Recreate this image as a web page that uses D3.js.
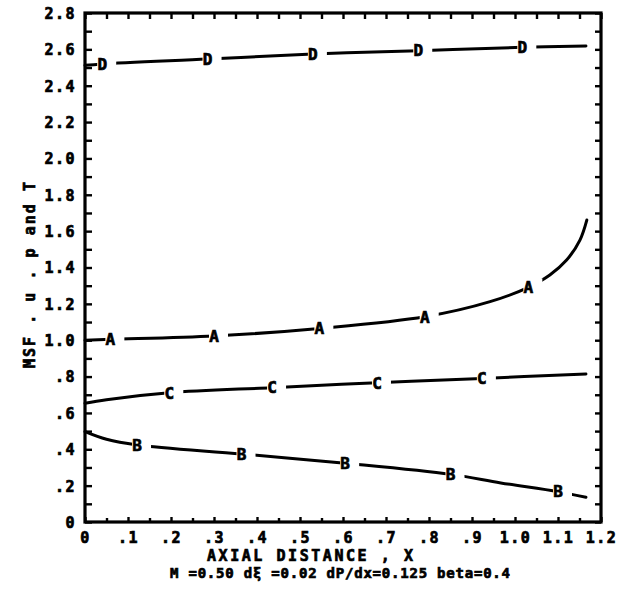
<!DOCTYPE html>
<html>
<head>
<meta charset="utf-8">
<script src="https://cdn.jsdelivr.net/npm/d3@7"></script>
<style>
  body { margin: 0; background: #fff; }
  svg { display: block; }
  text { font-family: "DejaVu Sans Mono", monospace; font-weight: bold; fill: #000; stroke: #000; stroke-width: 0.7px; }
</style>
</head>
<body>
<svg id="ch" width="617" height="597"></svg>
<script>
// curves, marker positions listed separately

const dX = [0, 0.04, 0.285, 0.53, 0.775, 1.017, 1.165];
const dY = [2.512, 2.52, 2.547, 2.574, 2.593, 2.611, 2.618];
const dMarkX = [0.04, 0.285, 0.53, 0.775, 1.017];

const aX = [0, 0.059, 0.30, 0.545, 0.79, 0.942, 1.031, 1.081, 1.12, 1.151, 1.167];
const aY = [1.0, 1.005, 1.023, 1.065, 1.129, 1.212, 1.291, 1.359, 1.441, 1.551, 1.661];
const aMarkX = [0.059, 0.30, 0.545, 0.79, 1.031];

const cX = [0, 0.05, 0.196, 0.435, 0.679, 0.923, 1.165];
const cY = [0.653, 0.673, 0.711, 0.739, 0.766, 0.79, 0.814];
const cMarkX = [0.196, 0.435, 0.679, 0.923];

const bX = [0, 0.05, 0.121, 0.364, 0.605, 0.85, 0.967, 1.10, 1.165];
const bY = [0.497, 0.455, 0.424, 0.374, 0.323, 0.262, 0.215, 0.167, 0.136];
const bMarkX = [0.121, 0.364, 0.605, 0.85, 1.10];

const curveNames = ["D", "A", "C", "B"];

const xTickLabels = ["0", ".1", ".2", ".3", ".4", ".5", ".6", ".7", ".8", ".9", "1.0", "1.1", "1.2"];
const yTickLabels = ["0", ".2", ".4", ".6", ".8", "1.0", "1.2", "1.4", "1.6", "1.8", "2.0", "2.2", "2.4", "2.6", "2.8"];

const xTitle = "AXIAL DISTANCE , X";
const yTitle = "MSF . u . p and T";
const caption = "M =0.50 d\u03BE =0.02 dP/dx=0.125  beta=0.4";

/* Dimensions */
const mLeft = 85, mRight = 601, mTop = 13, mBottom = 522;

const svg = d3.select("#ch");

const x = d3.scaleLinear().domain([0, 1.2]).range([mLeft, mRight]);
const y = d3.scaleLinear().domain([0, 2.8]).range([mBottom, mTop]);

const ticks05 = d3.range(0, 1.2001, 0.05);
const ticks1 = d3.range(0, 2.8001, 0.1);

/* Axes */
const yAxis = d3.axisLeft(y)
  .tickValues(ticks1)
  .tickSizeInner(-7).tickSizeOuter(0).tickPadding(9)
  .tickFormat((d, i) => (i % 2 == 0 ? yTickLabels[i / 2] : ""));
const xAxis = d3.axisBottom(x)
  .tickValues(ticks05)
  .tickSizeInner(-5).tickSizeOuter(0).tickPadding(10)
  .tickFormat((d, i) => (i % 2 == 0 ? xTickLabels[i / 2] : ""));
const topAxis = d3.axisTop(x).tickValues(ticks05).tickSizeInner(-6).tickSizeOuter(0).tickFormat("");
const rightAxis = d3.axisRight(y).tickValues(ticks1).tickSizeInner(-6).tickSizeOuter(0).tickFormat("");

const gy = svg.append("g").attr("transform", `translate(${mLeft},0)`).call(yAxis);
const gx = svg.append("g").attr("transform", `translate(0,${mBottom})`).call(xAxis);
const gt = svg.append("g").attr("transform", `translate(0,${mTop})`).call(topAxis);
const gr = svg.append("g").attr("transform", `translate(${mRight},0)`).call(rightAxis);

[gy, gx, gt, gr].forEach((g) => {
  g.select(".domain").remove();
  g.selectAll("line").attr("stroke", "#000").attr("stroke-width", 2.4);
  g.selectAll("text")
    .style("font-size", "15px")
    .style("letter-spacing", "1.5px")
    .attr("fill", "#000");
});
gx.selectAll("line").attr("y2", (d, i) => (i % 2 == 0 ? -5 : -4));
gy.selectAll("text").attr("dy", "0.36em");
gx.selectAll("text").attr("dy", "0.7em");

/* Frame */
svg.append("rect")
  .attr("x", mLeft).attr("y", mTop)
  .attr("width", mRight - mLeft).attr("height", mBottom - mTop)
  .attr("fill", "none").attr("stroke", "#000").attr("stroke-width", 3.2);

/* Curves */
const series = [
  { xs: dX, ys: dY, marks: dMarkX },
  { xs: aX, ys: aY, marks: aMarkX },
  { xs: cX, ys: cY, marks: cMarkX },
  { xs: bX, ys: bY, marks: bMarkX },
];

const line = d3.line()
  .x((d) => x(d[0]))
  .y((d) => y(d[1]))
  .curve(d3.curveCatmullRom.alpha(0.5));

series.forEach((s, k) => {
  const pts = s.xs.map((v, i) => [v, s.ys[i]]);
  svg.append("path")
    .attr("d", line(pts))
    .attr("fill", "none")
    .attr("stroke", "#000")
    .attr("stroke-width", 3)
    .attr("stroke-linecap", "round");

  const at = d3.scaleLinear().domain(s.xs).range(s.ys);
  const m = svg.append("g").selectAll("g").data(s.marks).enter().append("g")
    .attr("transform", (d) => `translate(${x(d)},${y(at(d))})`);
  m.append("rect")
    .attr("x", -5).attr("y", -9).attr("width", 19).attr("height", 18)
    .attr("fill", "#fff").attr("stroke", "none");
  m.append("text")
    .attr("text-anchor", "middle")
    .attr("dy", "0.36em")
    .style("font-size", "16px")
    .text(curveNames[k]);
});

/* Titles */
svg.append("text")
  .attr("x", 310).attr("y", 556)
  .attr("text-anchor", "middle").attr("dy", "0.36em")
  .attr("textLength", 206).attr("lengthAdjust", "spacing")
  .style("font-size", "15px")
  .text(xTitle);

svg.append("text")
  .attr("x", 340).attr("y", 573)
  .attr("text-anchor", "middle").attr("dy", "0.36em")
  .attr("textLength", 340).attr("lengthAdjust", "spacing")
  .style("font-size", "14px")
  .text(caption);

svg.append("text")
  .attr("transform", "translate(30,275) rotate(-90)")
  .attr("text-anchor", "middle").attr("dy", "0.36em")
  .attr("textLength", 186).attr("lengthAdjust", "spacing")
  .style("font-size", "15px")
  .text(yTitle);
</script>
</body>
</html>
